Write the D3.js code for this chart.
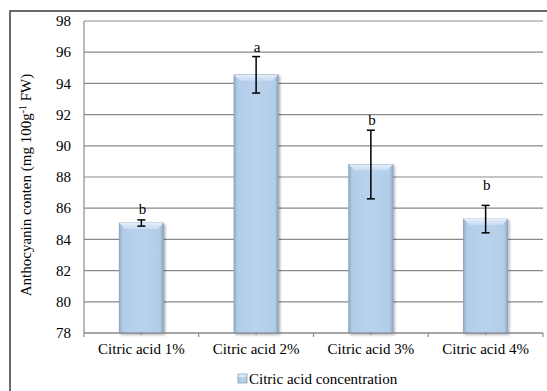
<!DOCTYPE html>
<html>
<head>
<meta charset="utf-8">
<script src="https://cdn.jsdelivr.net/npm/d3@7"></script>
<style>
  html, body { margin: 0; padding: 0; background: #fff; }
  svg { display: block; }
</style>
</head>
<body>
<svg id="chart" width="547" height="391" font-family="'Times New Roman', 'Liberation Serif', 'DejaVu Serif', serif"></svg>
<script>
const categories = ["Citric acid 1%", "Citric acid 2%", "Citric acid 3%", "Citric acid 4%"];
const values = [85.05, 94.55, 88.8, 85.3];
const errors = [0.2, 1.17, 2.2, 0.88];
const letters = ["b", "a", "b", "b"];
const letterPos = [85.95, 96.35, 91.7, 87.5];
const yTicks = [78, 80, 82, 84, 86, 88, 90, 92, 94, 96, 98];
const seriesName = "Citric acid concentration";

const svg = d3.select("#chart");
const m = { left: 84, right: 543, top: 21, bottom: 333 };
const FONT = "'Times New Roman', 'Liberation Serif', 'DejaVu Serif', serif";

const defs = svg.append("defs");
const grad = defs.append("linearGradient").attr("id", "barGrad").attr("x1", 0).attr("x2", 1).attr("y1", 0).attr("y2", 0);
grad.append("stop").attr("offset", "0%").attr("stop-color", "#93acc8");
grad.append("stop").attr("offset", "8%").attr("stop-color", "#b3cce7");
grad.append("stop").attr("offset", "50%").attr("stop-color", "#b9d3ee");
grad.append("stop").attr("offset", "92%").attr("stop-color", "#b3cce7");
grad.append("stop").attr("offset", "100%").attr("stop-color", "#8ea6c1");
const topGrad = defs.append("linearGradient").attr("id", "topGrad").attr("x1", 0).attr("x2", 0).attr("y1", 0).attr("y2", 1);
topGrad.append("stop").attr("offset", "0%").attr("stop-color", "#e3eefa");
topGrad.append("stop").attr("offset", "100%").attr("stop-color", "#c6dbf2");
const shadow = defs.append("filter").attr("id", "shadow").attr("x", "-20%").attr("y", "-10%").attr("width", "150%").attr("height", "130%");
shadow.append("feDropShadow").attr("dx", 1.5).attr("dy", 1.5).attr("stdDeviation", 1.2).attr("flood-color", "#000").attr("flood-opacity", 0.3);

svg.append("rect").attr("x", 10).attr("y", 11).attr("width", 600).attr("height", 600)
  .attr("fill", "none").attr("stroke", "#3a3a3a").attr("stroke-width", 1.5);

const x = d3.scaleBand().domain(categories).range([m.left, m.right]).padding(0);
const y = d3.scaleLinear().domain([78, 98]).range([m.bottom, m.top]);

svg.append("g").selectAll("line").data(yTicks).join("line")
  .attr("x1", m.left).attr("x2", m.right)
  .attr("y1", d => y(d)).attr("y2", d => y(d))
  .attr("stroke", "#8a8a8a").attr("stroke-width", 1.2);

svg.append("line").attr("x1", m.left).attr("x2", m.left).attr("y1", y(98)).attr("y2", y(78))
  .attr("stroke", "#8a8a8a").attr("stroke-width", 1.2);

svg.append("g").selectAll("text").data(yTicks).join("text")
  .attr("font-family", FONT)
  .attr("x", 71).attr("y", d => y(d)).attr("dy", "0.35em")
  .attr("text-anchor", "end").attr("font-size", 15).text(d => d);

const bw = x.bandwidth() * 0.385;
const bars = svg.append("g").selectAll("g").data(categories).join("g").attr("filter", "url(#shadow)");
bars.append("rect")
  .attr("x", d => x(d) + x.bandwidth() / 2 - bw / 2)
  .attr("y", (d, i) => y(values[i]))
  .attr("width", bw)
  .attr("height", (d, i) => y(78) - y(values[i]))
  .attr("fill", "url(#barGrad)")
  .attr("stroke", "#8aa0b8").attr("stroke-width", 0.8);
bars.append("path")
  .attr("d", (d, i) => {
    const x0 = x(d) + x.bandwidth() / 2 - bw / 2, x1 = x0 + bw, yt = y(values[i]), b = 6;
    return `M${x0},${yt}L${x1},${yt}L${x1 - b},${yt + b}L${x0 + b},${yt + b}Z`;
  })
  .attr("fill", "url(#topGrad)");

svg.append("line").attr("x1", m.left).attr("x2", m.right).attr("y1", y(78)).attr("y2", y(78))
  .attr("stroke", "#8a8a8a").attr("stroke-width", 1.2);
const bounds = categories.map(c => x(c)).concat([m.right]);
svg.append("g").selectAll("line").data(bounds).join("line")
  .attr("x1", d => d).attr("x2", d => d).attr("y1", y(78)).attr("y2", y(78) + 4)
  .attr("stroke", "#8a8a8a").attr("stroke-width", 1.2);
svg.append("g").selectAll("line").data(categories).join("line")
  .attr("x1", d => x(d) + x.bandwidth() / 2).attr("x2", d => x(d) + x.bandwidth() / 2)
  .attr("y1", y(78)).attr("y2", y(78) + 2)
  .attr("stroke", "#8a8a8a").attr("stroke-width", 1.2);

svg.append("g").selectAll("text").data(categories).join("text")
  .attr("font-family", FONT)
  .attr("x", d => x(d) + x.bandwidth() / 2).attr("y", 354)
  .attr("text-anchor", "middle").attr("font-size", 15).text(d => d);

const eb = svg.append("g").attr("stroke", "#000").attr("stroke-width", 1.5);
categories.forEach((c, i) => {
  const cx = x(c) + x.bandwidth() / 2;
  const hi = y(values[i] + errors[i]), lo = y(values[i] - errors[i]);
  eb.append("line").attr("x1", cx).attr("x2", cx).attr("y1", hi).attr("y2", lo);
  eb.append("line").attr("x1", cx - 4).attr("x2", cx + 4).attr("y1", hi).attr("y2", hi);
  eb.append("line").attr("x1", cx - 4).attr("x2", cx + 4).attr("y1", lo).attr("y2", lo);
});

svg.append("g").selectAll("text").data(categories).join("text")
  .attr("font-family", FONT)
  .attr("x", d => x(d) + x.bandwidth() / 2 + 1).attr("y", (d, i) => y(letterPos[i])).attr("dy", "0.35em")
  .attr("text-anchor", "middle").attr("font-size", 15).text((d, i) => letters[i]);

const yt = svg.append("text").attr("font-family", FONT).attr("transform", "translate(31,185) rotate(-90)")
  .attr("text-anchor", "middle").attr("font-size", 15);
yt.append("tspan").text("Anthocyanin conten (mg 100g");
yt.append("tspan").attr("dy", -5).attr("font-size", 10).text("-1");
yt.append("tspan").attr("dy", 5).text(" FW)");

const lg = svg.append("g");
lg.append("rect").attr("x", 238).attr("y", 374).attr("width", 9).attr("height", 9)
  .attr("fill", "url(#barGrad)").attr("stroke", "#8aa0b8").attr("stroke-width", 0.8);
lg.append("rect").attr("x", 238.5).attr("y", 374.5).attr("width", 8).attr("height", 2.5).attr("fill", "#dfeaf7");
lg.append("text").attr("font-family", FONT).attr("x", 249).attr("y", 384).attr("font-size", 15).text(seriesName);
</script>
</body>
</html>
